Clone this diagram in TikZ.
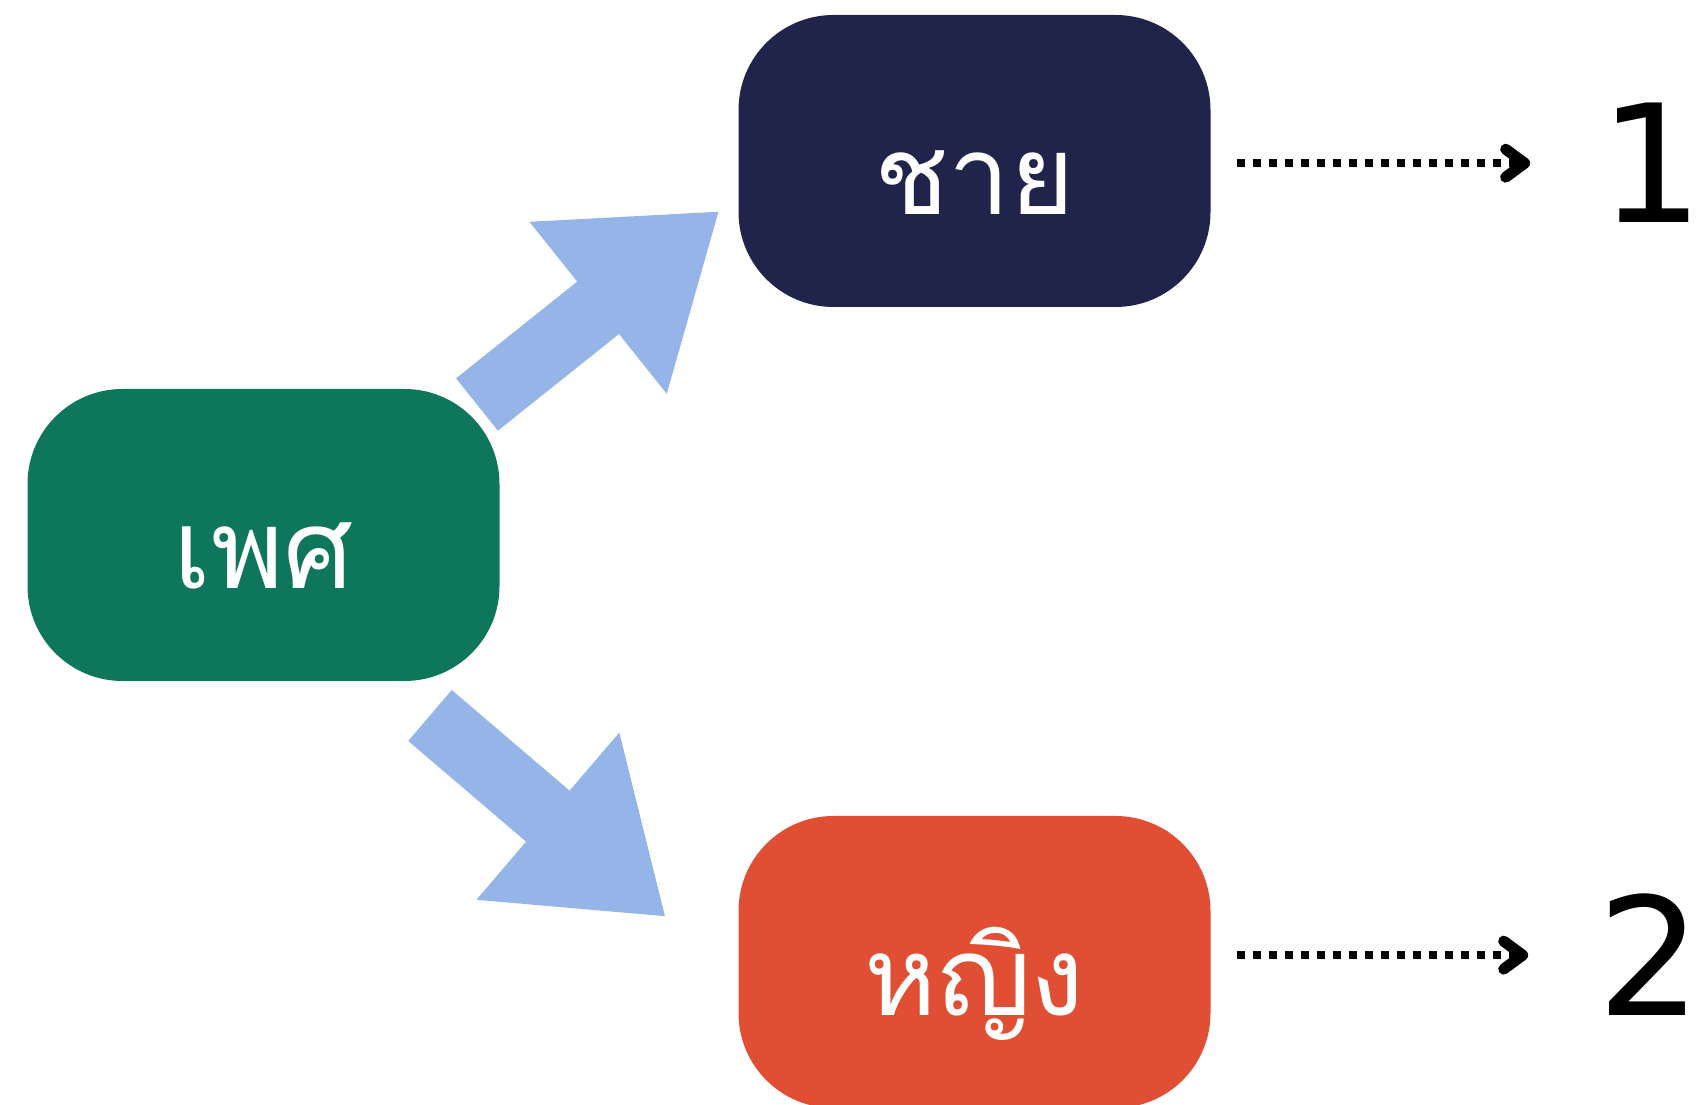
\documentclass[tikz,border=0pt]{standalone}
\usepackage{fontspec}
\newfontfamily\thaifont[Script=Thai]{Loma}
\newfontfamily\digitfont{DejaVu Sans}
\definecolor{navyblue}{RGB}{33,36,74}
\definecolor{sexgreen}{RGB}{14,118,90}
\definecolor{vermilion}{RGB}{224,79,52}
\definecolor{arrowblue}{RGB}{149,180,232}
\usetikzlibrary{arrows.meta,calc,positioning}

\begin{document}
\begin{tikzpicture}[x=1pt, y=1pt,
    box/.style={rounded corners=95pt, minimum width=472pt, minimum height=292pt, text=white,
        font=\thaifont\fontsize{110}{110}\selectfont, text height=108pt, text depth=0pt},
    digit/.style={font=\digitfont\fontsize{164}{164}\selectfont, inner sep=0pt, anchor=base},
    dotline/.style={line width=8pt, dash pattern=on 8pt off 8pt},
    chevron/.style={line width=11pt, line cap=round, line join=round}]
    \useasboundingbox (0,0) rectangle (1702,1105);

    % boxes
    \node[box, fill=sexgreen] (sex) at (263.5,570) {เพศ};
    \node[box, fill=navyblue] (man) at (974.5,944) {ชาย};
    \node[box, fill=vermilion] (woman) at (974.5,143) {หญิง};

    % block arrows
    \foreach \tx/\ty/\ang in {477/700.5/38.6, 430/389.5/-40.5}
        \fill[arrowblue, shift={(\tx,\ty)}, rotate=\ang] (0,33.5) -- (155,33.5) -- (155,110) -- (309,0)
            -- (155,-110) -- (155,-33.5) -- (0,-33.5) -- cycle;

    % codes
    \node[digit] (one) at (1652,882) {1};
    \node[digit] (two) at (1650,89) {2};

    % dotted arrows
    \foreach \src/\dst in {man/one, woman/two} {
        \coordinate (\dst tip) at ([xshift=-75pt]\dst.west);
        \draw[dotline] ($(\dst.west -| \src.east)+(26pt,0)$) -- ([xshift=-6pt]\dst tip);
        \draw[chevron] ([shift={(-19pt,14pt)}]\dst tip) -- (\dst tip) -- ([shift={(-19pt,-14pt)}]\dst tip);
    }
\end{tikzpicture}
\end{document}
